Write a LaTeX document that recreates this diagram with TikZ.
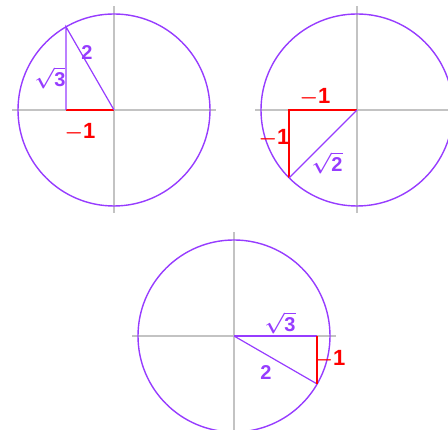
\documentclass[tikz,border=0pt]{standalone}
\usepackage{fontspec}
\setsansfont{Liberation Sans}
\usepackage{xcolor}
\usepackage{tikz}
\usetikzlibrary{calc}
\definecolor{CircViolet}{RGB}{150, 60, 255}
\definecolor{AxisGray}{RGB}{195, 195, 195}
\definecolor{LegRed}{RGB}{255, 0, 0}
\tikzset{
  axisline/.style={draw=AxisGray, line width=1.3pt},
  unitcirc/.style={draw=CircViolet, line width=1.4pt},
  violetleg/.style={draw=CircViolet, line width=1.2pt},
  redleg/.style={draw=LegRed, line width=1.6pt},
  violetlbl/.style={text=CircViolet, inner sep=0pt, font=\sffamily\bfseries\boldmath\fontsize{20}{20}\selectfont},
  redlbl/.style={text=LegRed, inner sep=0pt, font=\sffamily\bfseries\boldmath\fontsize{22}{22}\selectfont}
}
\newcommand{\rootof}[1]{$\sqrt{\mbox{\sffamily\bfseries #1}}$}

\begin{document}
\begin{tikzpicture}[x=1pt, y=1pt]
  \useasboundingbox (0,0) rectangle (448,430);
  % centres
  \coordinate (o1) at (114,320);
  \coordinate (o2) at (357,320);
  \coordinate (o3) at (234,94);
  % axes
  \foreach \c in {o1,o2,o3} {
    \draw[axisline] ($(\c)+(-102,0)$) -- ($(\c)+(102,0)$);
    \draw[axisline] ($(\c)+(0,-103)$) -- ($(\c)+(0,104)$);
    \draw[unitcirc] (\c) circle (96);
  }
  % first: 120 degrees
  \coordinate (p1) at ($(o1)+(120:96)$);
  \coordinate (f1) at (p1 |- o1);
  \draw[redleg] (f1) -- (o1);
  \draw[violetleg] (o1) -- (p1) -- (f1);
  \node[violetlbl] (hyp1) at (87,377) {2};
  \node[violetlbl] (opp1) at (50,352) {\rootof{3}};
  \node[redlbl] (adj1) at (80,298) {$-$1};
  % second: 225 degrees
  \coordinate (p2) at ($(o2)+(225:96)$);
  \coordinate (f2) at (p2 |- o2);
  \draw[redleg] (o2) -- (f2) -- (p2);
  \draw[violetleg] (p2) -- (o2);
  \node[redlbl] (adj2) at (315,333) {$-$1};
  \node[redlbl] (opp2) at (274,292) {$-$1};
  \node[violetlbl] (hyp2) at (327,267) {\rootof{2}};
  % third: -30 degrees
  \coordinate (p3) at ($(o3)+(-30:96)$);
  \coordinate (f3) at (p3 |- o3);
  \draw[violetleg] (o3) -- (f3);
  \draw[violetleg] (o3) -- (p3);
  \draw[redleg] (f3) -- (p3);
  \node[violetlbl] (adj3) at (280,107) {\rootof{3}};
  \node[violetlbl] (hyp3) at (266,57) {2};
  \node[redlbl] (opp3) at (330,71) {$-$1};
\end{tikzpicture}
\end{document}
